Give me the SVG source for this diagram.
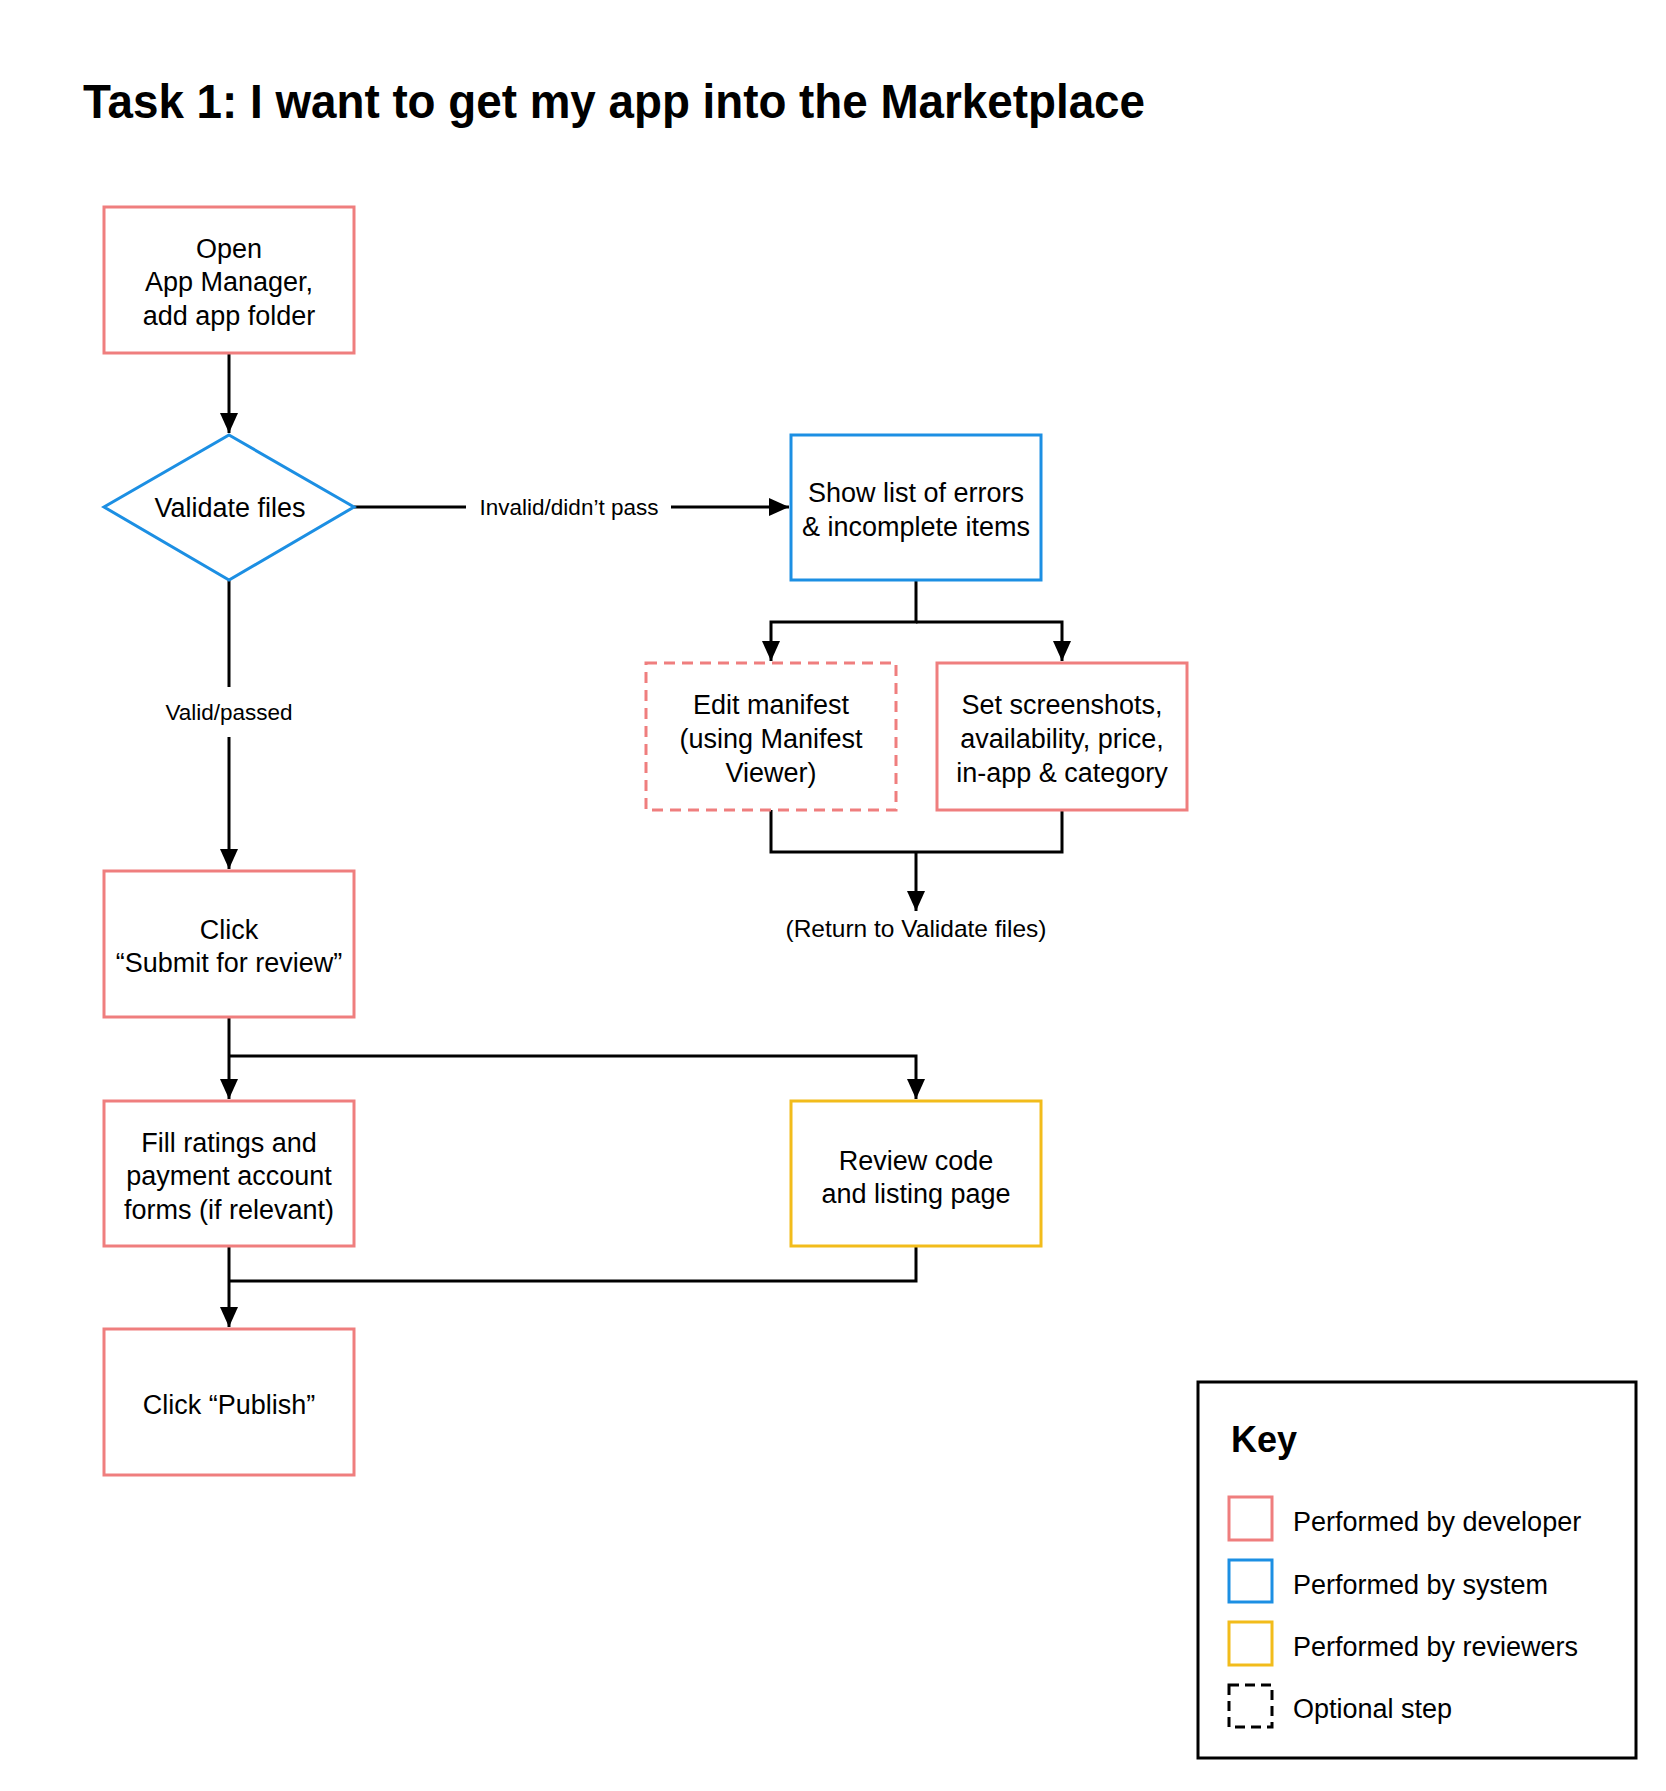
<svg xmlns="http://www.w3.org/2000/svg" width="1666" height="1791" viewBox="0 0 1666 1791">
<style>
text{font-family:"Liberation Sans",Arial,Helvetica,sans-serif;fill:#000}
.t{font-size:27px;text-anchor:middle}
.k{font-size:27px}
.lbl{font-size:22.5px;text-anchor:middle}
.dev{fill:#fff;stroke:#EF7E7E;stroke-width:3}
.sys{fill:#fff;stroke:#1C8FE3;stroke-width:3}
.rev{fill:#fff;stroke:#F2BC1B;stroke-width:3}
.opt{stroke-dasharray:11 7}
.c{fill:none;stroke:#000;stroke-width:3}
</style>
<defs>
<marker id="ah" markerUnits="userSpaceOnUse" markerWidth="20" markerHeight="18" refX="20" refY="9" orient="auto">
<path d="M0,0 L20,9 L0,18 z" fill="#000"/>
</marker>
</defs>
<rect width="1666" height="1791" fill="#fff"/>
<text id="title" x="83" y="118" font-size="48" font-weight="bold" textLength="1062" lengthAdjust="spacingAndGlyphs">Task 1: I want to get my app into the Marketplace</text>

<g id="connectors">
<path class="c" d="M229,353 V433" marker-end="url(#ah)"/>
<path class="c" d="M354,507 H466"/>
<path class="c" d="M671,507 H789" marker-end="url(#ah)"/>
<text class="lbl" x="569" y="515">Invalid/didn’t pass</text>
<path class="c" d="M229,580 V687"/>
<path class="c" d="M229,737 V869" marker-end="url(#ah)"/>
<text class="lbl" x="229" y="720">Valid/passed</text>
<path class="c" d="M916,580 V622 H771 V661" marker-end="url(#ah)"/>
<path class="c" d="M916,622 H1062 V661" marker-end="url(#ah)"/>
<path class="c" d="M771,810 V852 H1062 V810"/>
<path class="c" d="M916,852 V911" marker-end="url(#ah)"/>
<text x="916" y="937" font-size="24.5" text-anchor="middle">(Return to Validate files)</text>
<path class="c" d="M229,1017 V1099" marker-end="url(#ah)"/>
<path class="c" d="M229,1056 H916 V1099" marker-end="url(#ah)"/>
<path class="c" d="M229,1246 V1327" marker-end="url(#ah)"/>
<path class="c" d="M916,1246 V1281 H229"/>
</g>

<g id="open">
<rect class="dev" x="104" y="207" width="250" height="146"/>
<text class="t" x="229" y="258">Open</text>
<text class="t" x="229" y="291">App Manager,</text>
<text class="t" x="229" y="324.5">add app folder</text>
</g>
<g id="validate">
<polygon class="sys" points="229,435 354,507 229,580 104,507"/>
<text class="t" x="230" y="517">Validate files</text>
</g>
<g id="errors">
<rect class="sys" x="791" y="435" width="250" height="145"/>
<text class="t" x="916" y="502">Show list of errors</text>
<text class="t" x="916" y="535.5">&amp; incomplete items</text>
</g>
<g id="manifest">
<rect class="dev opt" x="646" y="663" width="250" height="147"/>
<text class="t" x="771" y="714">Edit manifest</text>
<text class="t" x="771" y="748">(using Manifest</text>
<text class="t" x="771" y="781.5">Viewer)</text>
</g>
<g id="screenshots">
<rect class="dev" x="937" y="663" width="250" height="147"/>
<text class="t" x="1062" y="714">Set screenshots,</text>
<text class="t" x="1062" y="748">availability, price,</text>
<text class="t" x="1062" y="781.5">in-app &amp; category</text>
</g>
<g id="submit">
<rect class="dev" x="104" y="871" width="250" height="146"/>
<text class="t" x="229" y="939">Click</text>
<text class="t" x="229" y="972">“Submit for review”</text>
</g>
<g id="fill">
<rect class="dev" x="104" y="1101" width="250" height="145"/>
<text class="t" x="229" y="1151.5">Fill ratings and</text>
<text class="t" x="229" y="1184.5">payment account</text>
<text class="t" x="229" y="1218.5">forms (if relevant)</text>
</g>
<g id="review">
<rect class="rev" x="791" y="1101" width="250" height="145"/>
<text class="t" x="916" y="1169.5">Review code</text>
<text class="t" x="916" y="1202.5">and listing page</text>
</g>
<g id="publish">
<rect class="dev" x="104" y="1329" width="250" height="146"/>
<text class="t" x="229" y="1414">Click “Publish”</text>
</g>

<g id="key">
<rect x="1198" y="1382" width="438" height="376" fill="#fff" stroke="#000" stroke-width="3"/>
<text x="1231" y="1452" font-size="36" font-weight="bold">Key</text>
<rect class="dev" x="1229" y="1497" width="43" height="43"/>
<text class="k" x="1293" y="1531">Performed by developer</text>
<rect class="sys" x="1229" y="1560" width="43" height="42"/>
<text class="k" x="1293" y="1594">Performed by system</text>
<rect class="rev" x="1229" y="1622" width="43" height="43"/>
<text class="k" x="1293" y="1656">Performed by reviewers</text>
<rect x="1229" y="1685" width="43" height="42" fill="none" stroke="#000" stroke-width="3" stroke-dasharray="10 6"/>
<text class="k" x="1293" y="1718">Optional step</text>
</g>
</svg>
